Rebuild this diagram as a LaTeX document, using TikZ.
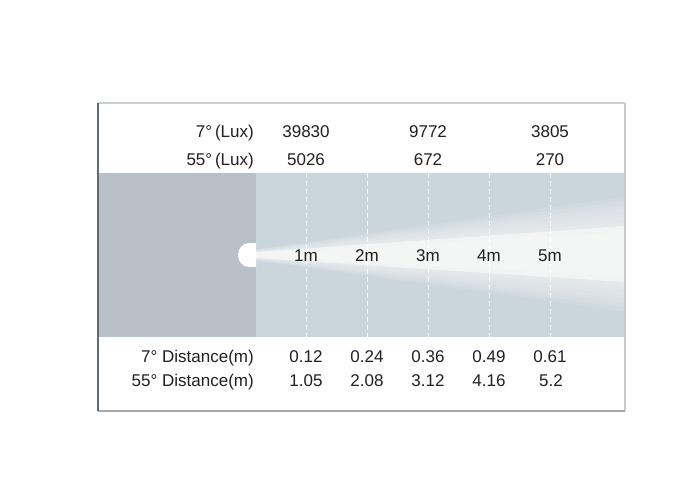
\documentclass[tikz,border=0pt]{standalone}
\usepackage{fontspec}
\setmainfont{Liberation Sans}
\definecolor{txt}{HTML}{231F20}
\definecolor{darkband}{HTML}{B8C1C8}
\definecolor{lightband}{HTML}{CBD5DC}
\definecolor{beam}{HTML}{F7F7F7}
\definecolor{bleft}{HTML}{5E6B70}
\definecolor{btop}{HTML}{CACECE}
\definecolor{bright}{HTML}{C5CACC}
\definecolor{bbottom}{HTML}{A4ABAE}
\tikzset{
  lab/.style={anchor=base east, text=txt, font=\fontsize{17}{20}\selectfont, inner sep=0pt},
  val/.style={anchor=base, text=txt, font=\fontsize{17}{20}\selectfont, inner sep=0pt},
  grid/.style={white, line width=0.8pt, dash pattern=on 5pt off 3pt},
}
\begin{document}
\begin{tikzpicture}[x=1pt,y=-1pt]
\useasboundingbox (0,0) rectangle (700,500);
\fill[white] (0,0) rectangle (700,500);
% band
\fill[lightband] (256,173) rectangle (625,337);
\fill[darkband] (98,173) rectangle (256,337);
% beam
\begin{scope}
\clip (256,173) rectangle (625,337);
\foreach \i in {0,...,7} {
  \fill[beam, opacity=0.13] (256,{255-3-0.4*\i}) -- (625,{254-28-4.2*\i}) -- (625,{254+28+4.2*\i}) -- (256,{255+3+0.4*\i}) -- cycle;
}
\fill[beam, opacity=0.75] (256,252) -- (625,226) -- (625,282) -- (256,258) -- cycle;
\fill[beam, opacity=0.5] (256,253) -- (625,232) -- (625,276) -- (256,257) -- cycle;
\end{scope}
% lamp
\fill[white] (256,243) -- (249,243) arc[start angle=270, end angle=90, x radius=11, y radius=12] -- (256,267) -- cycle;
% dashed lines
\foreach \x/\n in {306/a,367/b,428/c,489/d,550/e} {
  \coordinate (t\n) at (\x,173);
  \coordinate (b\n) at (\x,337);
  \draw[grid] (t\n) -- (b\n);
}
% meter labels
\node[val] (m1) at (306,261) {1m};
\node[val] (m2) at (367,261) {2m};
\node[val] (m3) at (428,261) {3m};
\node[val] (m4) at (489,261) {4m};
\node[val] (m5) at (550,261) {5m};
% frame
\coordinate (fa) at (98,103);
\coordinate (fb) at (625,103);
\coordinate (fc) at (625,411);
\coordinate (fd) at (98,411);
\draw[btop, line width=2pt] (fa) -- (fb);
\draw[bright, line width=2pt] (fb) -- (fc);
\draw[bbottom, line width=2pt] (fc) -- (fd);
\draw[bleft, line width=2pt] (fd) -- (fa);
% top rows
\node[lab] (l1) at (254,137.5) {7°\,(Lux)};
\node[lab] (l2) at (254,165) {55°\,(Lux)};
\node[val] (a1) at (306,137.5) {39830};
\node[val] (a2) at (428,137.5) {9772};
\node[val] (a3) at (550,137.5) {3805};
\node[val] (b1) at (306,165) {5026};
\node[val] (b2) at (428,165) {672};
\node[val] (b3) at (550,165) {270};
% bottom rows
\node[lab] (l3) at (254,362) {7°\ Distance(m)};
\node[lab] (l4) at (254,386.5) {55°\ Distance(m)};
\node[val] (c1) at (306,362) {0.12};
\node[val] (c2) at (367,362) {0.24};
\node[val] (c3) at (428,362) {0.36};
\node[val] (c4) at (489,362) {0.49};
\node[val] (c5) at (550,362) {0.61};
\node[val] (d1) at (306,386.5) {1.05};
\node[val] (d2) at (367,386.5) {2.08};
\node[val] (d3) at (428,386.5) {3.12};
\node[val] (d4) at (489,386.5) {4.16};
\node[val] (d5) at (551,386.5) {5.2};
\end{tikzpicture}
\end{document}
